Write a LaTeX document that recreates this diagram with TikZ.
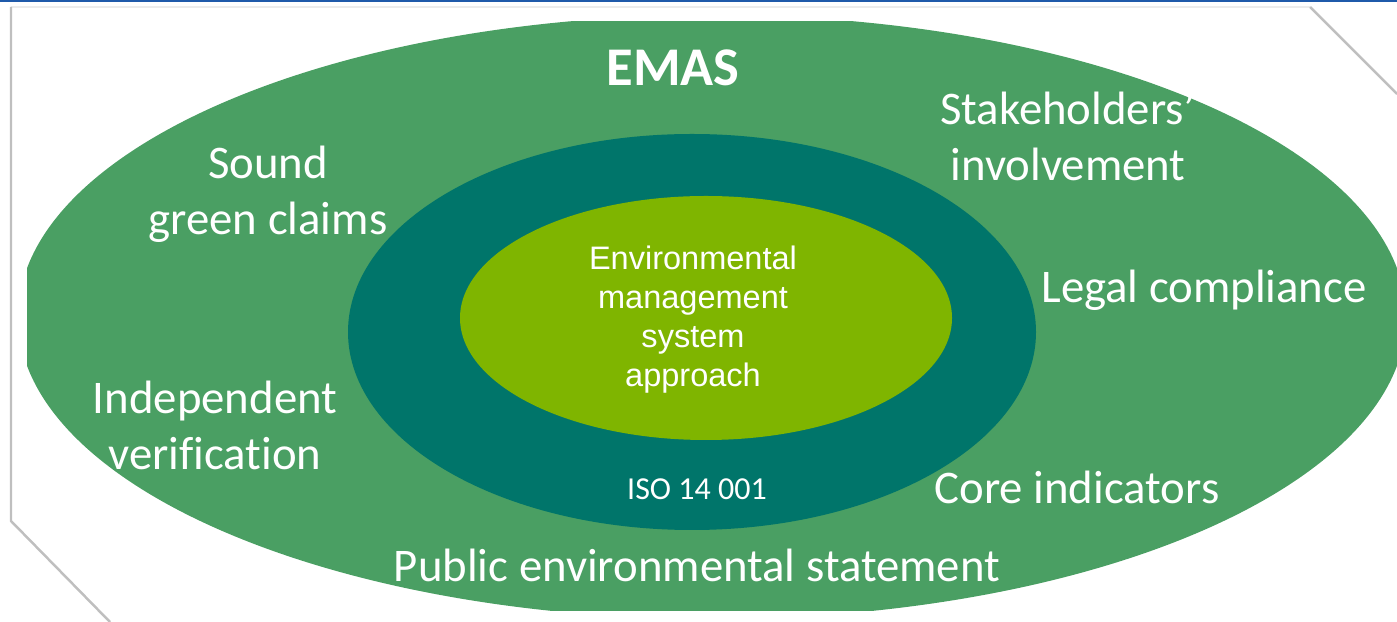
\documentclass[tikz,border=0pt]{standalone}
\usepackage{fontspec}
\setmainfont{Carlito}[Ligatures=CommonOff]
\newfontfamily\arialfont{Liberation Sans}
\usetikzlibrary{positioning}
\definecolor{emasgreen}{RGB}{74,159,99}
\definecolor{isoteal}{RGB}{0,117,106}
\definecolor{emslime}{RGB}{127,181,0}
\definecolor{slideblue}{RGB}{31,90,170}

\begin{document}
\begin{tikzpicture}[x=0.01cm, y=-0.01cm,
  pillar/.style={text=white, align=center, font=\fontsize{13.3}{15.9}\selectfont},
  inner/.style={text=white, align=center, font=\arialfont\fontsize{9.25}{11.1}\selectfont}]
\useasboundingbox (0,0) rectangle (1397,622);
\clip (0,0) rectangle (1397,622);
% slide frame
\fill[slideblue] (0,0) rectangle (1397,2.5);
\draw[gray!15] (11,7) -- (1310,7);
\draw[gray!50, line width=0.7pt] (1310,7) -- (1397,94);
\draw[gray!50, line width=0.7pt] (11,7) -- (11,521) -- (110,622);
% the three rings (outer one cut flat by its box)
\begin{scope}
\clip (27,22) rectangle (1420,611);
\fill[emasgreen] (712,317) ellipse [x radius=694, y radius=302];
\end{scope}
\fill[isoteal] (692,332) ellipse [x radius=344, y radius=198];
\fill[emslime] (706,318) ellipse [x radius=246, y radius=122];
% labels
\node[text=white, font=\fontsize{15.5}{18}\selectfont\bfseries] (emas) at (673,68) {EMAS};
\node[pillar] (stake) at (1068,136) {Stakeholders'\\involvement};
\node[pillar] (claims) at (268,194) {Sound\\green claims};
\node[pillar] (legal) at (1204,290) {Legal compliance};
\node[pillar] (verif) at (215,425) {Independent\\verification};
\node[pillar] (core) at (1077,487) {Core indicators};
\node[pillar] (public) at (697,565) {Public environmental statement};
\node[inner] (ems) at (693,320) {Environmental\\management\\system\\approach};
\node[text=white, font=\fontsize{9.1}{11}\selectfont] (iso) at (697,489) {ISO 14 001};
\end{tikzpicture}
\end{document}
